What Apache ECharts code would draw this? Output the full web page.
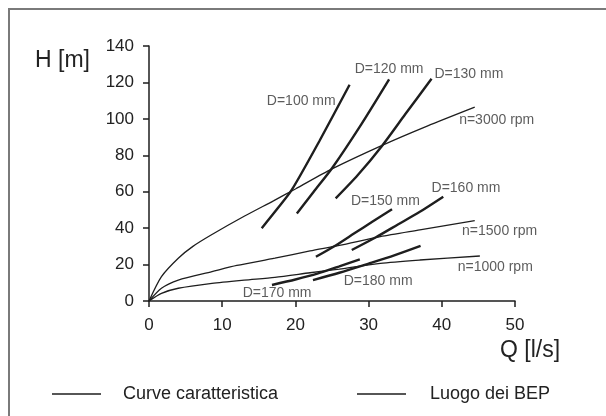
<!DOCTYPE html>
<html lang="it">
<head>
    <meta charset="UTF-8">
    <title>Curve caratteristiche</title>
    <script src="https://cdn.jsdelivr.net/npm/echarts@6/dist/echarts.min.js"></script>
    <style>
        html, body { margin: 0; padding: 0; background: #fff; }
    </style>
</head>
<body>
<div id="chart" style="width: 606px;height:416px;"></div>

<script>
    // curve caratteristiche [Q, H]
    var n3000 = [[0, 0], [1.7, 13.4], [4, 23.5], [6, 30], [8.6, 36.5], [13, 46.5], [17, 55], [20, 61.5], [25, 72.5], [32, 85.7], [38, 96], [44.5, 106.4]];
    var n1500 = [[0, 0], [1.7, 7], [4, 11.5], [8.6, 16.1], [12, 19.5], [17.2, 23.5], [22, 27.5], [26, 30.5], [31.6, 35.3], [37, 39], [44.5, 44.1]];
    var n1000 = [[0, 0], [1.7, 4.2], [4, 7], [8.6, 9.7], [13, 11.5], [17.2, 13], [22, 15.5], [26, 17.5], [31.6, 20.7], [37, 22.5], [45.2, 24.7]];

    // luogo dei BEP per diametro
    var d100 = [[15.4, 40], [17.5, 50.5], [19.5, 61], [23.3, 88], [27.4, 118.7]];
    var d120 = [[20.2, 48], [22.5, 60], [25, 72.9], [29, 97], [32.8, 121.7]];
    var d130 = [[25.5, 56.3], [28.5, 69], [31.8, 85], [35, 102.5], [38.6, 122]];
    var d150 = [[22.8, 24.3], [25.5, 30.5], [28, 37], [30.5, 43.5], [33.2, 50.4]];
    var d160 = [[27.7, 28], [31, 35], [34, 42], [37, 49], [40.2, 57.3]];
    var d170 = [[16.8, 8.8], [20, 11.8], [23, 15], [26, 19], [28.8, 22.9]];
    var d180 = [[22.4, 11.5], [26, 15.5], [30, 20.5], [33.5, 25], [37.1, 30.2]];

    // etichette sul grafico
    var labelText = ['D=100 mm', 'D=120 mm', 'D=130 mm', 'n=3000 rpm', 'D=150 mm', 'D=160 mm', 'n=1500 rpm', 'n=1000 rpm', 'D=180 mm', 'D=170 mm'];
    var labelQ = [20.8, 32.8, 43.7, 47.5, 32.3, 43.3, 47.9, 47.3, 31.3, 17.5];
    var labelH = [109.5, 127.3, 124.6, 99.1, 54.6, 61.9, 38.6, 18.5, 11, 4.2];

    var xTicks = [0, 10, 20, 30, 40, 50];
    var yTicks = [0, 20, 40, 60, 80, 100, 120, 140];

    var font = "'Liberation Sans', Arial, sans-serif";
    var ink = '#1e1e1e';

    function curve(data) {
        return {
            name: 'Curve caratteristica',
            type: 'line',
            data: data,
            smooth: 0.25,
            symbol: 'none',
            color: ink,
            lineStyle: {color: ink, width: 1.3},
            z: 2
        };
    }

    function bep(data) {
        return {
            name: 'Luogo dei BEP',
            type: 'line',
            data: data,
            smooth: 0.25,
            symbol: 'none',
            color: ink,
            lineStyle: {color: ink, width: 2.4},
            z: 3
        };
    }

    var labelData = [];
    for (var i = 0; i < labelText.length; i++) {
        labelData.push({value: [labelQ[i], labelH[i]], name: labelText[i]});
    }

    var legendBase = {
        icon: 'rect',
        itemWidth: 49, itemHeight: 1.5,
        itemStyle: {color: ink, borderWidth: 0},
        selectedMode: false
    };

    var myChart = echarts.init(document.getElementById('chart'));
    myChart.setOption({
        animation: false,
        textStyle: {fontFamily: font},
        grid: {left: 149, top: 46, width: 366, height: 255},
        graphic: [{
            type: 'rect',
            shape: {x: 9, y: 9, width: 700, height: 500},
            style: {fill: 'none', stroke: '#7a7a7a', lineWidth: 2}
        }, {
            type: 'text',
            left: 35, top: 49,
            style: {text: 'H [m]', font: '23px ' + font, fill: '#222'}
        }, {
            type: 'text',
            left: 500, top: 339,
            style: {text: 'Q [l/s]', font: '23px ' + font, fill: '#222'}
        }],
        legend: [
            Object.assign({}, legendBase, {
                data: ['Curve caratteristica'],
                left: 47, top: 380,
                textStyle: {fontSize: 18, color: '#222', padding: [0, 0, 0, 17]}
            }),
            Object.assign({}, legendBase, {
                data: ['Luogo dei BEP'],
                left: 352, top: 380,
                textStyle: {fontSize: 18, color: '#222', padding: [0, 0, 0, 19]}
            })
        ],
        xAxis: {
            type: 'value',
            min: xTicks[0],
            max: xTicks[xTicks.length - 1],
            interval: 10,
            axisLine: {lineStyle: {color: ink, width: 1.5}},
            axisTick: {length: 6, lineStyle: {color: ink, width: 1.5}},
            axisLabel: {fontSize: 17, color: '#222', margin: 16},
            splitLine: {show: false}
        },
        yAxis: {
            type: 'value',
            min: yTicks[0],
            max: yTicks[yTicks.length - 1],
            interval: 20,
            axisLine: {show: true, lineStyle: {color: ink, width: 1.5}},
            axisTick: {show: true, length: 6, lineStyle: {color: ink, width: 1.5}},
            axisLabel: {fontSize: 17, color: '#222', margin: 15},
            splitLine: {show: false}
        },
        series: [
            curve(n3000), curve(n1500), curve(n1000),
            bep(d100), bep(d120), bep(d130), bep(d150), bep(d160), bep(d170), bep(d180),
            {
                name: 'etichette',
                type: 'scatter',
                symbolSize: 0,
                data: labelData,
                label: {
                    show: true,
                    position: 'inside',
                    formatter: '{b}',
                    fontSize: 14,
                    color: '#333',
                    fontFamily: font
                },
                silent: true,
                z: 4
            }
        ]
    });
</script>
</body>
</html>
